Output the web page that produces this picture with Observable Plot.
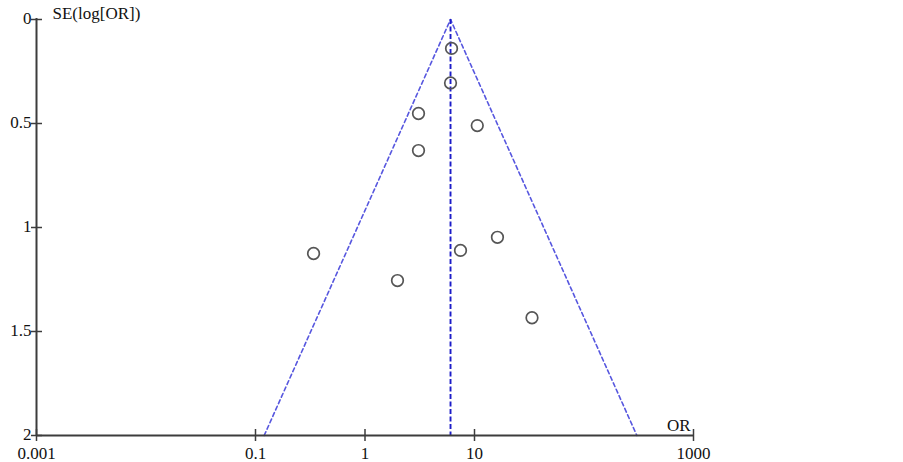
<!DOCTYPE html>
<html>
<head>
<meta charset="utf-8">
<script src="https://cdn.jsdelivr.net/npm/d3@7"></script>
<script src="https://cdn.jsdelivr.net/npm/@observablehq/plot@0.6"></script>
<style>
  html, body { margin: 0; padding: 0; background: #fff; }
  svg { display: block; }
</style>
</head>
<body>
<div id="chart"></div>
<script>
// Study odds ratios and standard errors of log(OR)
const studyOR = [6.17, 6.04, 3.08, 10.6, 3.08, 0.339, 1.98, 7.45, 16.2, 33.5];
const studySE = [0.139, 0.305, 0.452, 0.51, 0.63, 1.125, 1.255, 1.11, 1.047, 1.434];

// Pooled estimate and funnel (95% pseudo-confidence limits)
const pooledOR = 6.04;
const funnelOR = [0.12, 6.04, 304];
const funnelSE = [2, 0, 2];

// Axis ticks
const xTicks = [0.001, 0.1, 1, 10, 1000];
const xTickLabels = ["0.001", "0.1", "1", "10", "1000"];
const yTicks = [0, 0.5, 1, 1.5, 2];
const yTickLabels = ["0", "0.5", "1", "1.5", "2"];

const points = studyOR.map((d, i) => ({or: d, se: studySE[i]}));
const funnel = funnelOR.map((d, i) => ({or: d, se: funnelSE[i]}));

const axisColor = "#3c3c3c";
const font = "Liberation Serif, 'Times New Roman', serif";

const chart = Plot.plot({
  width: 903,
  height: 462,
  marginLeft: 36,
  marginRight: 210,
  marginTop: 19,
  marginBottom: 27,
  style: {fontFamily: font, fontSize: "17px", color: "#111", background: "#fff", overflow: "visible"},
  x: {type: "log", domain: [0.001, 1000], label: null},
  y: {domain: [0, 2], reverse: true, label: null},
  marks: [
    // funnel sides
    Plot.line(funnel, {x: "or", y: "se", stroke: "#5757df", strokeWidth: 1.6, strokeDasharray: "4,3"}),
    // pooled estimate
    Plot.ruleX([pooledOR], {x: d => d, y1: 0, y2: 2, stroke: "#1c1cc8", strokeWidth: 1.9, strokeDasharray: "5,2.5"}),
    // axis lines
    Plot.ruleX([xTicks[0]], {x: d => d, y1: 0, y2: 2, stroke: axisColor, strokeWidth: 2, insetTop: -1}),
    Plot.ruleY([yTicks[yTicks.length - 1]], {y: d => d, x1: xTicks[0], x2: xTicks[xTicks.length - 1], stroke: axisColor, strokeWidth: 2}),
    // crossing tick marks
    Plot.ruleX(xTicks, {x: d => d, y1: 2, y2: 2, insetTop: -6, insetBottom: -6, stroke: axisColor, strokeWidth: 1.5}),
    Plot.ruleY(yTicks, {y: d => d, x1: xTicks[0], x2: xTicks[0], insetLeft: -5, insetRight: -6, stroke: axisColor, strokeWidth: 1.5}),
    // tick labels
    Plot.axisX({ticks: xTicks, tickFormat: (d) => xTickLabels[xTicks.indexOf(d)], tickSize: 0, tickPadding: 11, label: null, fill: "#111", fontSize: 17}),
    Plot.axisY({ticks: yTicks, tickFormat: (d) => yTickLabels[yTicks.indexOf(d)], tickSize: 0, tickPadding: 5, dy: -1, label: null, fill: "#111", fontSize: 17}),
    // study points
    Plot.dot(points, {x: "or", y: "se", r: 5.8, stroke: "#555", strokeWidth: 1.7, fill: "none"}),
    // axis titles
    Plot.text(["SE(log[OR])"], {frameAnchor: "top-left", text: d => d, dx: 16, dy: -6, textAnchor: "start", lineAnchor: "middle", fontSize: 17, fill: "#111"}),
    Plot.text(["OR"], {frameAnchor: "bottom-right", text: d => d, dx: -3, dy: -10, textAnchor: "end", lineAnchor: "middle", fontSize: 17, fill: "#111"})
  ]
});

document.getElementById("chart").appendChild(chart);
</script>
</body>
</html>
